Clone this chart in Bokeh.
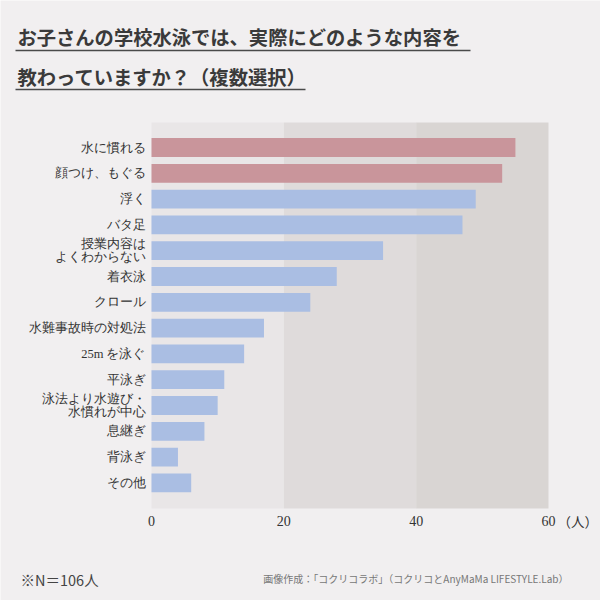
from bokeh.plotting import figure
from bokeh.models import (Range1d, BoxAnnotation, Label, LabelSet,
                          ColumnDataSource)
from bokeh.embed import file_html
from bokeh.resources import INLINE

# --- data -------------------------------------------------------------
items = [
    "水に慣れる",
    "顔つけ、もぐる",
    "浮く",
    "バタ足",
    "授業内容は\nよくわからない",
    "着衣泳",
    "クロール",
    "水難事故時の対処法",
    "25m を泳ぐ",
    "平泳ぎ",
    "泳法より水遊び・\n水慣れが中心",
    "息継ぎ",
    "背泳ぎ",
    "その他",
]
counts = [55, 53, 49, 47, 35, 28, 24, 17, 14, 11, 10, 8, 4, 6]
x_ticks = [0, 20, 40, 60]
x_max = 60
unit = "（人）"
n_total = 106

title_lines = ["お子さんの学校水泳では、実際にどのような内容を",
               "教わっていますか？（複数選択）"]
credit = "画像作成：「コクリコラボ」（コクリコとAnyMaMa LIFESTYLE.Lab）"

# --- style ------------------------------------------------------------
FONT = "Noto Sans CJK JP"
NUM_FONT = "Noto Sans"
PAGE_BG = "#f1eff0"
RED = "#c9959b"
BLUE = "#aabee3"
TEXT = "#333333"
BANDS = ["#e9e6e7", "#dfdbdb", "#d9d5d3"]

W, H = 600, 600
# plot panel inside the page (pixels)
PX_LEFT, PX_RIGHT = 151, 548
ROW_PX = 25.8           # vertical pitch of one row
FIRST_ROW_PX = 147      # centre of the first row, from the top
PAD_TOP, PAD_BOTTOM = 0.97, 0.99   # panel margin above / below rows (rows)
LINE_PX = 13            # line pitch of wrapped category labels

k = (PX_RIGHT - PX_LEFT) / x_max
x_range = Range1d(-PX_LEFT / k, x_max + (W - PX_RIGHT) / k)
y_range = Range1d((H - FIRST_ROW_PX) / ROW_PX, -FIRST_ROW_PX / ROW_PX)

pos = list(range(len(items)))
colors = [RED if i < 2 else BLUE for i in pos]
source = ColumnDataSource(dict(item=items, count=counts, color=colors, pos=pos))

p = figure(width=W, height=H, output_backend="svg", toolbar_location=None,
           x_range=x_range, y_range=y_range,
           x_axis_type=None, y_axis_type=None, min_border=0)
p.border_fill_color = PAGE_BG
p.background_fill_color = PAGE_BG
p.outline_line_color = None
p.grid.visible = False

# shaded panel, one band for every tick interval
band_src = ColumnDataSource(dict(left=x_ticks[:-1], right=x_ticks[1:],
                                 color=BANDS))
p.quad(left="left", right="right", top=-PAD_TOP,
       bottom=len(items) - 1 + PAD_BOTTOM, fill_color="color",
       line_color=None, source=band_src)

p.hbar(y="pos", right="count", left=0, height=0.73, source=source,
       fill_color="color", line_color=None)

# category labels left of the panel; wrapped labels get one row per line,
# each right-aligned against the panel
line_text, line_y = [], []
for i, it in enumerate(items):
    parts = it.split("\n")
    for j, part in enumerate(parts):
        line_text.append(part)
        line_y.append(i + (j - (len(parts) - 1) / 2) * LINE_PX / ROW_PX)
cat_src = ColumnDataSource(dict(text=line_text, y=line_y))
p.add_layout(LabelSet(x=PX_LEFT - 6, x_units="screen", y="y", text="text",
                      source=cat_src, text_align="right",
                      text_baseline="middle", text_font=FONT,
                      text_font_size="12.5px", text_color=TEXT))

# tick labels under the panel
tick_src = ColumnDataSource(dict(x=x_ticks, text=[str(t) for t in x_ticks]))
p.add_layout(LabelSet(x="x", y=H - 520, y_units="screen", text="text",
                      source=tick_src, text_align="center",
                      text_baseline="middle", text_font=NUM_FONT,
                      text_font_size="14px", text_color=TEXT))


# page furniture placed in page coordinates (x from left, y from top)
def label(text, x, y, size, color=TEXT, bold=False, align="left", font=FONT):
    p.add_layout(Label(x=x, y=H - y, x_units="screen", y_units="screen",
                       text=text, text_font=font, text_font_size=size,
                       text_color=color, text_align=align,
                       text_baseline="middle",
                       text_font_style="bold" if bold else "normal"))


def rule(x0, x1, y, color="#4a4a4a", thick=1.5):
    p.add_layout(BoxAnnotation(left=x0, right=x1,
                               top=H - (y - thick / 2),
                               bottom=H - (y + thick / 2),
                               left_units="screen", right_units="screen",
                               top_units="screen", bottom_units="screen",
                               fill_color=color, fill_alpha=1, line_color=None))


label(title_lines[0], 17, 36, "19.3px", color="#3a3a3a", bold=True)
rule(15, 470, 50)
label(title_lines[1], 17, 76, "19.3px", color="#3a3a3a", bold=True)
rule(15, 305, 89)

label(unit, 557, 520, "13.5px")
label(f"※N＝{n_total}人", 20, 579, "14.5px", color="#444444")
label(credit, 568, 578, "10px", color="#777777", align="right")

open("out.html", "w").write(file_html(p, INLINE))
